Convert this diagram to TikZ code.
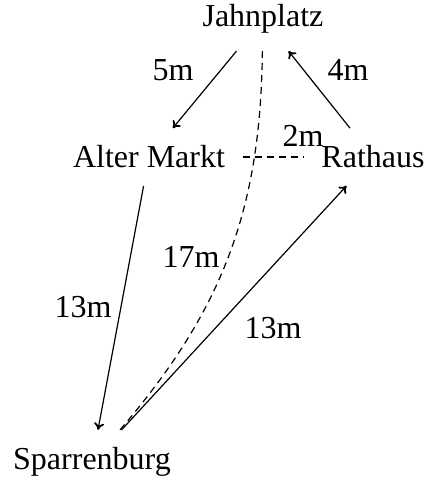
\documentclass[tikz,border=0pt]{standalone}
\usepackage{fontspec}
\setmainfont{Liberation Serif}
\usetikzlibrary{arrows.meta}
\begin{document}
\begin{tikzpicture}[x=1pt,y=-1pt,line width=1.2pt,
  >={Computer Modern Rightarrow[length=7pt,width=10pt,line width=1.8pt]},
  place/.style={inner sep=17pt,font=\fontsize{32}{38}\selectfont},
  lbl/.style={inner sep=0pt,font=\fontsize{32}{38}\selectfont},
  dsh/.style={dash pattern=on 7pt off 5pt}]
\useasboundingbox (0,0) rectangle (426,480);
\node[place] (j) at (263,19) {Jahnplatz};
\node[place] (am) at (149,157) {Alter Markt};
\node[place] (r) at (373,157) {Rathaus};
\node[place] (s) at (92,462) {Sparrenburg};
\draw[->] (j) -- (am);
\draw[->] (r) -- (j);
\draw[->] (am) -- (s);
\draw[->] (s) -- (r);
\draw[dsh] (s) to[bend right=20] (j);
\draw[dsh] (am) -- (r);
\node[lbl] (l5) at (173,70) {5m};
\node[lbl] (l4) at (348,70) {4m};
\node[lbl] (l2) at (303,136) {2m};
\node[lbl] (l17) at (191,257) {17m};
\node[lbl] (l13a) at (83,307) {13m};
\node[lbl] (l13b) at (273,328) {13m};
\end{tikzpicture}
\end{document}
